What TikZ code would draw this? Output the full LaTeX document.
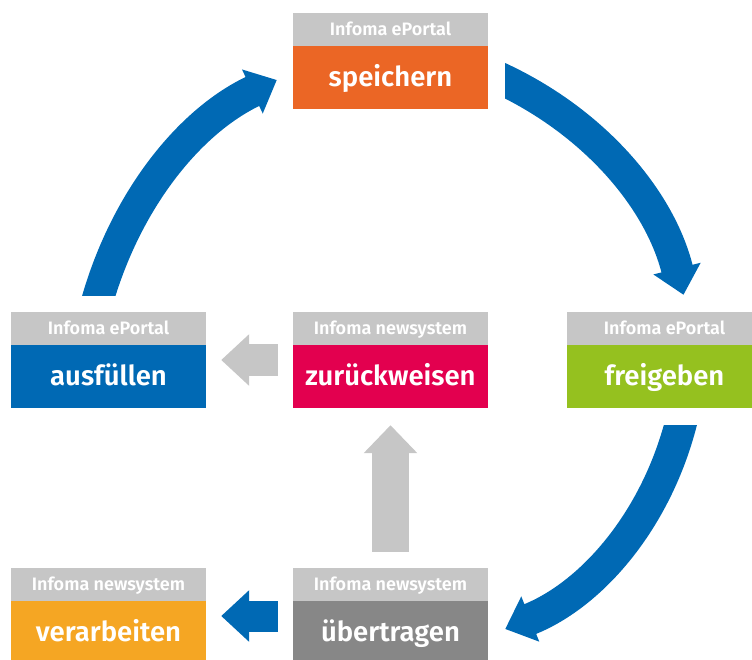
\documentclass[tikz,border=0pt]{standalone}
\usepackage{fontspec}
\setmainfont{Fira Sans}[BoldFont={Fira Sans SemiBold}]
\usetikzlibrary{arrows.meta}

\definecolor{kopfgrau}{HTML}{C6C6C6}
\definecolor{blau}{HTML}{0069B4}
\definecolor{orange}{HTML}{EB6625}
\definecolor{magenta}{HTML}{E3004F}
\definecolor{gruen}{HTML}{95C11F}
\definecolor{gelb}{HTML}{F5A623}
\definecolor{dunkelgrau}{HTML}{878787}

\begin{document}
\begin{tikzpicture}[x=1pt, y=-1pt]
  \useasboundingbox (0, 0) rectangle (752, 659);

  \tikzstyle{kopf}=[fill=kopfgrau, text=white, minimum width=195pt, minimum height=33pt, inner sep=0pt, font=\fontsize{18}{18}\selectfont\bfseries, text height=15pt, text depth=3.3pt]
  \tikzstyle{schritt}=[text=white, minimum width=195pt, minimum height=63pt, inner sep=0pt, font=\fontsize{27.5}{27.5}\selectfont\bfseries, text height=23pt, text depth=4.2pt]
  \tikzstyle{fluss}=[line width=32pt, draw=blau, -{Triangle[length=27pt, width=47pt]}]
  \tikzstyle{zurueck}=[line width=32pt, draw=kopfgrau, -{Triangle[length=28pt, width=50pt]}]

  \node[kopf] (speichernkopf) at (390.5, 29.5) {Infoma ePortal};
  \node[schritt, fill=orange] (speichern) at (390.5, 77.5) {speichern};
  \node[kopf] (ausfuellenkopf) at (108.5, 328.5) {Infoma ePortal};
  \node[schritt, fill=blau] (ausfuellen) at (108.5, 376.5) {ausfüllen};
  \node[kopf] (zurueckweisenkopf) at (390.5, 328.5) {Infoma newsystem};
  \node[schritt, fill=magenta] (zurueckweisen) at (390.5, 376.5) {zurückweisen};
  \node[kopf] (freigebenkopf) at (664.5, 328.5) {Infoma ePortal};
  \node[schritt, fill=gruen] (freigeben) at (664.5, 376.5) {freigeben};
  \node[kopf] (verarbeitenkopf) at (108.5, 584.5) {Infoma newsystem};
  \node[schritt, fill=gelb] (verarbeiten) at (108.5, 632.5) {verarbeiten};
  \node[kopf] (uebertragenkopf) at (390.5, 584.5) {Infoma newsystem};
  \node[schritt, fill=dunkelgrau] (uebertragen) at (390.5, 632.5) {übertragen};

  % Kreislauf
  \begin{scope}
    \clip (505, 0) rectangle (752, 310);
    \draw[fluss] ([xshift=8pt, yshift=1pt]speichern.east) .. controls +(98, 44.5) and +(-23.5, -95) .. ([xshift=19pt, yshift=17pt]freigebenkopf.north);
  \end{scope}
  \begin{scope}
    \clip (480, 425) rectangle (752, 659);
    \draw[fluss] ([xshift=18.3pt, yshift=-7.3pt]freigeben.south) .. controls +(-24.2, 101.9) and +(88, -35) .. ([xshift=17pt, yshift=3.5pt]uebertragen.east);
  \end{scope}
  \begin{scope}
    \clip (0, 0) rectangle (290, 295);
    \draw[fluss] ([xshift=-12.2pt, yshift=7.4pt]ausfuellenkopf.north) .. controls +(28.7, -103.1) and +(-88, 41.4) .. ([xshift=-16pt, yshift=-2.5pt]speichern.west);
  \end{scope}

  \draw[zurueck, draw=blau, line width=31pt] ([xshift=-15pt, yshift=16.5pt]uebertragen.west) -- ([xshift=15pt, yshift=16.5pt]verarbeiten.east);
  \draw[zurueck] ([xshift=-15pt, yshift=16.5pt]zurueckweisen.west) -- ([xshift=15pt, yshift=16.5pt]ausfuellen.east);
  \draw[zurueck, line width=37pt, -{Triangle[length=28pt, width=52pt]}] ([yshift=16pt]uebertragenkopf.north) -- ([yshift=-17pt]zurueckweisen.south);
\end{tikzpicture}
\end{document}
